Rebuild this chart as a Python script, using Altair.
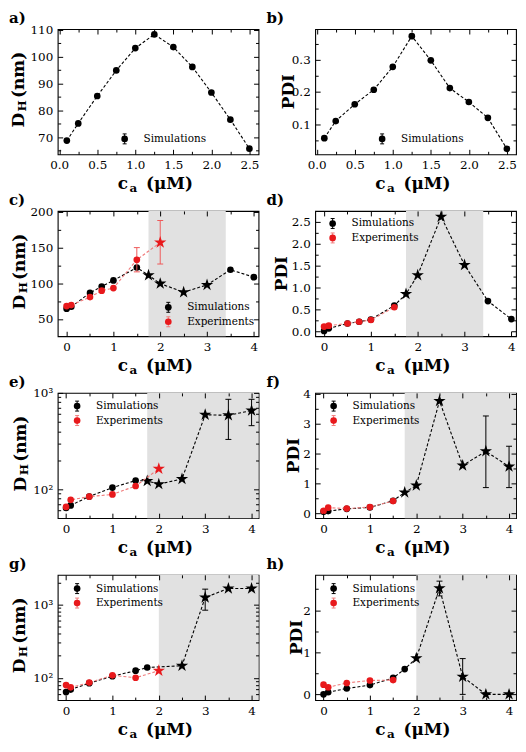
import altair as alt
import pandas as pd

# ---------------- data ----------------
a_ca = [0.1, 0.25, 0.5, 0.75, 1.0, 1.25, 1.5, 1.75, 2.0, 2.25, 2.5]
a_dh = [68.7, 75.1, 85.3, 94.8, 103.1, 108.2, 103.5, 96.1, 86.6, 76.5, 65.7]
b_pdi = [0.057, 0.110, 0.162, 0.207, 0.278, 0.373, 0.298, 0.212, 0.169, 0.120, 0.024]
ab_kind = ["o"] * 11

cd_sim_ca = [0, 0.1, 0.5, 0.75, 1.0, 1.5, 1.75, 2.0, 2.5, 3.0, 3.5, 4.0]
cd_sim_kind = ["o"] * 6 + ["*"] * 4 + ["o"] * 2
c_sim_dh = [64.4, 67.0, 86.5, 95.5, 104.0, 122.0, 111.3, 99.5, 87.4, 97.7, 118.9, 108.6]
d_sim_pdi = [0.01, 0.07, 0.18, 0.22, 0.27, 0.59, 0.85, 1.28, 2.61, 1.51, 0.69, 0.28]

c_exp_ca = [0, 0.1, 0.5, 0.75, 1.0, 1.5, 2.0]
c_exp_kind = ["o"] * 6 + ["*"]
c_exp_dh = [68.0, 69.4, 80.6, 89.6, 93.2, 132.9, 157.2]
c_exp_err_ca = [1.5, 2.0]
c_exp_err_lo = [116.0, 127.0]
c_exp_err_hi = [150.0, 188.0]

d_exp_ca = [0, 0.1, 0.5, 0.75, 1.0, 1.5]
d_exp_kind = ["o"] * 6
d_exp_pdi = [0.11, 0.13, 0.18, 0.22, 0.26, 0.55]

ef_sim_ca = [0, 0.1, 0.5, 1.0, 1.5, 1.75, 2.0, 2.5, 3.0, 3.5, 4.0]
ef_sim_kind = ["o"] * 5 + ["*"] * 6
e_sim_dh = [64, 68, 84, 104, 123, 122, 113, 128, 593, 585, 656]
e_sim_err_ca = [3.5, 4.0]
e_sim_err_lo = [329, 457]
e_sim_err_hi = [858, 858]
f_sim_pdi = [0.05, 0.075, 0.15, 0.2, 0.42, 0.7, 0.93, 3.75, 1.6, 2.07, 1.56]
f_sim_err_ca = [3.5, 4.0]
f_sim_err_lo = [0.86, 0.86]
f_sim_err_hi = [3.25, 2.24]

e_exp_ca = [0, 0.1, 0.5, 1.0, 1.5, 2.0]
e_exp_kind = ["o"] * 5 + ["*"]
e_exp_dh = [65.5, 77.6, 83.8, 88.4, 108, 163]
f_exp_ca = [0, 0.1, 0.5, 1.0, 1.5]
f_exp_kind = ["o"] * 5
f_exp_pdi = [0.086, 0.19, 0.16, 0.21, 0.41]

g_sim_ca = [0, 0.1, 0.5, 1.0, 1.5, 1.75, 2.5, 3.0, 3.5, 4.0]
g_sim_kind = ["o"] * 6 + ["*"] * 4
g_sim_dh = [63.7, 69, 84.3, 105, 125, 138, 146, 1246, 1650, 1650]
g_sim_err_ca = [3.0]
g_sim_err_lo = [835]
g_sim_err_hi = [1617]

h_sim_ca = [0, 0.1, 0.5, 1.0, 1.5, 1.75, 2.0, 2.5, 3.0, 3.5, 4.0]
h_sim_kind = ["o"] * 6 + ["*"] * 5
h_sim_pdi = [0.0, 0.05, 0.14, 0.22, 0.39, 0.6, 0.86, 2.52, 0.42, 0.0, 0.0]
h_sim_err_ca = [2.5, 3.0]
h_sim_err_lo = [2.34, 0.0]
h_sim_err_hi = [2.69, 0.85]

g_exp_ca = [0, 0.1, 0.5, 1.0, 1.5, 2.0]
g_exp_kind = ["o"] * 5 + ["*"]
g_exp_dh = [79.4, 74, 86, 108, 100, 125]
h_exp_ca = [0, 0.1, 0.5, 1.0, 1.5]
h_exp_kind = ["o"] * 5
h_exp_pdi = [0.23, 0.17, 0.27, 0.33, 0.34]

# ---------------- style ----------------
STAR = ("M0,-1L0.2245,-0.309L0.951,-0.309L0.363,0.118L0.588,0.809L0,0.382"
        "L-0.588,0.809L-0.363,0.118L-0.951,-0.309L-0.2245,-0.309Z")
W, H = 202, 126
SX, SY = W / 207.0, H / 130.0
FONT = "DejaVu Serif"
BLACK = "#000000"
RED = "#e8191c"
RED_LINE = "#f07a7a"
RED_ERR = "#ee5a5a"
SHADE = "#e1e1e1"
DUMMY = pd.DataFrame({"t": [0]})


def series_layers(ca, val, kind, xsc, ysc, color, line_color, err=None, err_color=None):
    df = pd.DataFrame({"ca": ca, "v": val, "k": kind})
    X = alt.X("ca:Q", scale=xsc, axis=None)
    Y = alt.Y("v:Q", scale=ysc, axis=None)
    layers = [alt.Chart(df).mark_line(color=line_color, strokeDash=[3, 2], strokeWidth=1.1).encode(x=X, y=Y)]
    if err is not None:
        edf = pd.DataFrame({"ca": err[0], "lo": err[1], "hi": err[2]})
        layers.append(alt.Chart(edf).mark_rule(color=err_color, strokeWidth=1).encode(
            x=X, y=alt.Y("lo:Q", scale=ysc, axis=None), y2="hi:Q"))
        for f in ("lo", "hi"):
            layers.append(alt.Chart(edf).mark_tick(color=err_color, orient="horizontal", size=6, thickness=1, opacity=1).encode(
                x=X, y=alt.Y(f + ":Q", scale=ysc, axis=None)))
    circ = df[df.k == "o"]
    star = df[df.k == "*"]
    if len(circ):
        layers.append(alt.Chart(circ).mark_point(shape="circle", filled=True, size=45, color=color, opacity=1).encode(x=X, y=Y))
    if len(star):
        layers.append(alt.Chart(star).mark_point(shape=STAR, filled=True, size=170, color=color, opacity=1).encode(x=X, y=Y))
    return layers


def axis_layers(xdom, ydom, xsc, ysc, xmaj, xmin, ymaj, ymin, xfmt, yfmt, ylabexpr):
    df = pd.DataFrame({"x": [xdom[0]], "y": [ydom[1]]})

    def ax(orient, values, size, labels, fmt=None, labexpr=None):
        kw = dict(orient=orient, values=values, tickSize=size, offset=-size, labels=labels,
                  domain=False, grid=False, title=None, tickColor="black", tickWidth=1, zindex=1)
        if labels:
            kw.update(labelPadding=5, labelFont=FONT, labelFontSize=12,
                      labelColor="black", labelFlush=False, labelOverlap=False)
            if fmt:
                kw["format"] = fmt
            if labexpr:
                kw["labelExpr"] = labexpr
        return alt.Axis(**kw)

    out = []
    for xo, yo, size, lab, xv, yv in [("bottom", "left", 5, True, xmaj, ymaj),
                                      ("bottom", "left", 3, False, xmin, ymin),
                                      ("top", "right", 5, False, xmaj, ymaj),
                                      ("top", "right", 3, False, xmin, ymin)]:
        out.append(alt.Chart(df).mark_point(opacity=0).encode(
            x=alt.X("x:Q", scale=xsc, axis=ax(xo, xv, size, lab, xfmt)),
            y=alt.Y("y:Q", scale=ysc, axis=ax(yo, yv, size, lab, yfmt, ylabexpr))))
    return out


def txt(text, x, y, size, bold=True, align="left", angle=0, baseline="alphabetic"):
    return alt.Chart(DUMMY).mark_text(text=text, font=FONT, fontSize=size,
                                      fontWeight="bold" if bold else "normal", align=align,
                                      baseline=baseline, angle=angle, color="black").encode(
        x=alt.value(x), y=alt.value(y))


def legend_layers(x, y, label, color, bar_color):
    d = alt.Chart(DUMMY)
    L = [d.mark_rule(color=bar_color, strokeWidth=1).encode(x=alt.value(x), y=alt.value(y - 5), y2=alt.value(y + 5))]
    for yy in (y - 5, y + 5):
        L.append(d.mark_rule(color=bar_color, strokeWidth=1).encode(x=alt.value(x - 2), x2=alt.value(x + 2), y=alt.value(yy)))
    L.append(d.mark_point(shape="circle", filled=True, size=45, color=color, opacity=1).encode(x=alt.value(x), y=alt.value(y)))
    L.append(txt(label, x + 19, y, 10.5, bold=False, baseline="middle"))
    return L


def panel(label, xdom, ydom, ylog, xmaj, xmin, ymaj, ymin, xfmt, yfmt, sim, exp=None,
          sim_err=None, exp_err=None, shade=None, ytitle="DH", yoff=-34, legend=(69, 114, False),
          ylabexpr=None):
    xsc = alt.Scale(domain=xdom, nice=False, zero=False)
    ysc = alt.Scale(domain=ydom, type="log", nice=False) if ylog else alt.Scale(domain=ydom, nice=False, zero=False)
    layers = []
    if shade is not None:
        sdf = pd.DataFrame({"x0": [shade[0]], "x1": [shade[1]]})
        layers.append(alt.Chart(sdf).mark_rect(color=SHADE).encode(
            x=alt.X("x0:Q", scale=xsc, axis=None), x2="x1:Q", y=alt.value(0), y2=alt.value(H)))
    layers += series_layers(*sim, xsc, ysc, BLACK, BLACK, err=sim_err, err_color=BLACK)
    if exp is not None:
        layers += series_layers(*exp, xsc, ysc, RED, RED_LINE, err=exp_err, err_color=RED_ERR)
    layers += axis_layers(xdom, ydom, xsc, ysc, xmaj, xmin, ymaj, ymin, xfmt, yfmt, ylabexpr)
    # x title: c_a (uM)
    px = W / 2 - 31 * SX
    layers += [txt("c", px, H + 35, 17, align="right"),
               txt("a", px + 1.5, H + 38, 12),
               txt("(μM)", px + 18, H + 35, 17)]
    # y title
    if ytitle == "DH":
        py = H / 2 + 22 * SY
        layers += [txt("D", yoff, py, 17, align="right", angle=270),
                   txt("H", yoff + 2, py - 1.5, 12, align="left", angle=270),
                   txt("(nm)", yoff, py - 15, 17, align="left", angle=270)]
    else:
        layers.append(txt("PDI", yoff, H / 2, 17, align="center", angle=270))
    # panel label
    layers.append(txt(label, -49, -6, 15))
    # legend
    lx, ly, with_exp = legend
    lx, ly = lx * SX, ly * SY
    layers += legend_layers(lx, ly, "Simulations", BLACK, BLACK)
    if with_exp:
        layers += legend_layers(lx, ly + 15 * SY, "Experiments", RED, RED_LINE)
    return alt.layer(*layers).resolve_axis(x="independent", y="independent").properties(width=W, height=H)


X_AB = [-0.02, 2.62]
XMAJ_AB = [0, 0.5, 1.0, 1.5, 2.0, 2.5]
XMIN_AB = [0.25, 0.75, 1.25, 1.75, 2.25]
X_CD = [-0.19, 4.1]
X_EH = [-0.18, 4.15]
XMAJ = [0, 1, 2, 3, 4]
XMIN = [0.5, 1.5, 2.5, 3.5]
LOGLAB = "datum.value == 100 ? '10²' : (datum.value == 1000 ? '10³' : '')"

pa = panel("a)", X_AB, [63.6, 110.2], False, XMAJ_AB, XMIN_AB, [70, 80, 90, 100, 110],
           [65, 75, 85, 95, 105], ".1f", "d", (a_ca, a_dh, ab_kind), yoff=-34, legend=(69, 114, False))
pb = panel("b)", X_AB, [0.007, 0.395], False, XMAJ_AB, XMIN_AB, [0.1, 0.2, 0.3],
           [0.05, 0.15, 0.25, 0.35], ".1f", ".1f", (a_ca, b_pdi, ab_kind), ytitle="PDI", yoff=-21,
           legend=(69, 114, False))
pc = panel("c)", X_CD, [25.7, 201.4], False, XMAJ, XMIN, [50, 100, 150, 200], [75, 125, 175],
           "d", "d", (cd_sim_ca, c_sim_dh, cd_sim_kind), exp=(c_exp_ca, c_exp_dh, c_exp_kind),
           exp_err=(c_exp_err_ca, c_exp_err_lo, c_exp_err_hi), shade=(1.75, 3.4), yoff=-33,
           legend=(114, 100, True))
pd_ = panel("d)", X_CD, [-0.11, 2.74], False, XMAJ, XMIN, [0, 0.5, 1.0, 1.5, 2.0, 2.5],
            [0.25, 0.75, 1.25, 1.75, 2.25], "d", ".1f", (cd_sim_ca, d_sim_pdi, cd_sim_kind),
            exp=(d_exp_ca, d_exp_pdi, d_exp_kind), shade=(1.75, 3.4), ytitle="PDI", yoff=-28,
            legend=(18, 13, True))
pe = panel("e)", X_EH, [50.1, 1000], True, XMAJ, XMIN, [100, 1000],
           [60, 70, 80, 90, 200, 300, 400, 500, 600, 700, 800, 900], "d", None,
           (ef_sim_ca, e_sim_dh, ef_sim_kind), exp=(e_exp_ca, e_exp_dh, e_exp_kind),
           sim_err=(e_sim_err_ca, e_sim_err_lo, e_sim_err_hi), shade=(1.75, 4.15), yoff=-32,
           legend=(20, 13.7, True), ylabexpr=LOGLAB)
pf = panel("f)", X_EH, [-0.16, 4.02], False, XMAJ, XMIN, [0, 1, 2, 3, 4], [0.5, 1.5, 2.5, 3.5],
           "d", "d", (ef_sim_ca, f_sim_pdi, ef_sim_kind), exp=(f_exp_ca, f_exp_pdi, f_exp_kind),
           sim_err=(f_sim_err_ca, f_sim_err_lo, f_sim_err_hi), shade=(1.75, 4.15), ytitle="PDI",
           yoff=-16, legend=(19, 13.7, True))
pg = panel("g)", X_EH, [49.6, 2535], True, XMAJ, XMIN, [100, 1000],
           [60, 70, 80, 90, 200, 300, 400, 500, 600, 700, 800, 900, 2000], "d", None,
           (g_sim_ca, g_sim_dh, g_sim_kind), exp=(g_exp_ca, g_exp_dh, g_exp_kind),
           sim_err=(g_sim_err_ca, g_sim_err_lo, g_sim_err_hi), shade=(2.0, 4.15), yoff=-33,
           legend=(20, 14.3, True), ylabexpr=LOGLAB)
ph = panel("h)", X_EH, [-0.136, 2.84], False, XMAJ, XMIN, [0, 1, 2], [0.5, 1.5, 2.5],
           "d", "d", (h_sim_ca, h_sim_pdi, h_sim_kind), exp=(h_exp_ca, h_exp_pdi, h_exp_kind),
           sim_err=(h_sim_err_ca, h_sim_err_lo, h_sim_err_hi), shade=(2.0, 4.15), ytitle="PDI",
           yoff=-13, legend=(19, 14.3, True))

chart = alt.concat(pa, pb, pc, pd_, pe, pf, pg, ph, columns=2, spacing=57, bounds="flush").properties(
    padding=0
).configure_view(stroke="black", strokeWidth=1.1)

chart.save("out.html", embed_options={"renderer": "svg", "actions": False})
